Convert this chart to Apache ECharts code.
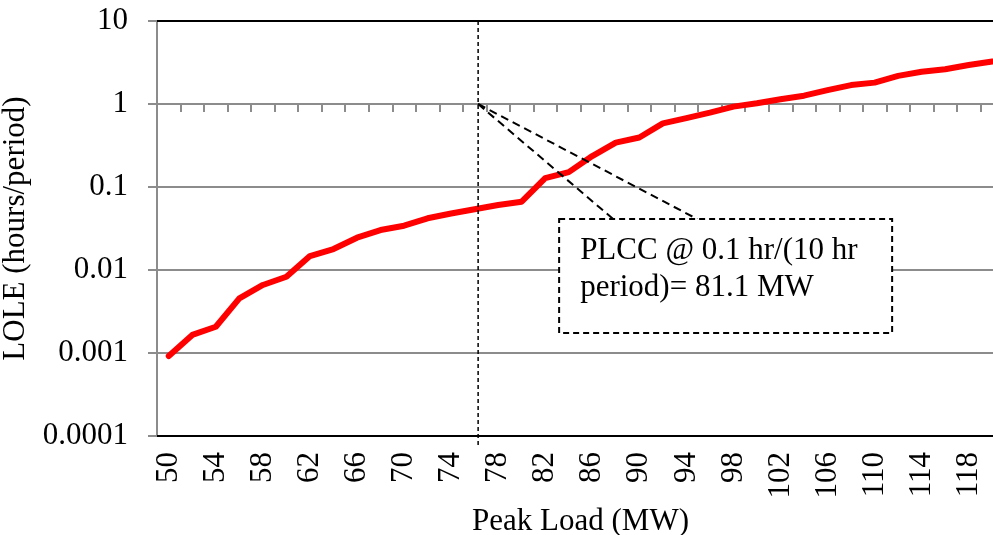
<!DOCTYPE html>
<html>
<head>
<meta charset="utf-8">
<script src="https://cdn.jsdelivr.net/npm/echarts@6/dist/echarts.min.js"></script>
<style>
html,body{margin:0;padding:0;background:#fff;}
#c{width:993px;height:535px;}
</style>
</head>
<body>
<div id="c"></div>
<script>
const categories = ['50','52','54','56','58','60','62','64','66','68','70','72','74','76','78','80','82','84','86','88','90','92','94','96','98','100','102','104','106','108','110','112','114','116','118','120'];
const lole = [0.00092,0.00165,0.00207,0.00456,0.0066,0.0083,0.0147,0.0179,0.0245,0.0303,0.0342,0.042,0.048,0.054,0.0607,0.0665,0.128,0.151,0.236,0.343,0.395,0.585,0.675,0.786,0.93,1.02,1.14,1.26,1.47,1.69,1.81,2.18,2.45,2.62,2.95,3.25];
const yMin = 0.0001, yMax = 10;
const annotationText = 'PLCC @ 0.1 hr/(10 hr\nperiod)= 81.1 MW';
const markerCategory = '76';

const FONT = '"Liberation Serif","Times New Roman",serif';
const GRAY = '#8c8c8c';

const chart = echarts.init(document.getElementById('c'), null, {renderer:'canvas'});
chart.setOption({
  animation:false,
  backgroundColor:'#ffffff',
  grid:{left:157, top:21, width:847, height:415, containLabel:false, outerBoundsMode:'none'},
  xAxis:[
    {
      type:'category', data:categories, position:'bottom', boundaryGap:true,
      axisLine:{show:true, lineStyle:{color:'#000', width:2}},
      axisTick:{show:false},
      axisLabel:{interval:1, rotate:90, margin:16, fontFamily:FONT, fontSize:31, color:'#000'},
      name:'Peak Load (MW)', nameLocation:'middle', nameGap:66,
      nameTextStyle:{fontFamily:FONT, fontSize:31, color:'#000'},
      splitLine:{show:false}
    },
    {
      type:'category', data:categories, position:'top', offset:-83, boundaryGap:true,
      axisLine:{show:false},
      axisTick:{show:true, inside:true, interval:0, length:8, lineStyle:{color:GRAY, width:2}},
      axisLabel:{show:false}, splitLine:{show:false}
    },
    {
      type:'category', data:categories, position:'top', boundaryGap:true,
      axisLine:{show:true, lineStyle:{color:'#000', width:2}},
      axisTick:{show:false}, axisLabel:{show:false}, splitLine:{show:false}
    }
  ],
  yAxis:{
    type:'log', logBase:10, min:yMin, max:yMax,
    axisLine:{show:true, lineStyle:{color:GRAY, width:2}},
    axisTick:{show:true, length:9, lineStyle:{color:GRAY, width:2}},
    minorTick:{show:false},
    splitLine:{show:true, lineStyle:{color:GRAY, width:2}},
    axisLabel:{margin:29, fontFamily:FONT, fontSize:31, color:'#000',
      formatter:function(v){ return String(Number(Number(v).toPrecision(1))); }},
    name:'LOLE (hours/period)', nameLocation:'middle', nameGap:118,
    nameTextStyle:{fontFamily:FONT, fontSize:31, color:'#000'}
  },
  series:[{
    type:'line', data:lole, xAxisIndex:0, symbol:'none', smooth:false,
    lineStyle:{color:'#ff0000', width:6, cap:'round', join:'round'},
    z:3
  }]
});

// Annotation (callout) anchored to the chart's coordinate system
const ax = chart.convertToPixel({xAxisIndex:0}, markerCategory) + 3.5;
const ay = chart.convertToPixel({yAxisIndex:0}, 1);
const yTop = chart.convertToPixel({yAxisIndex:0}, yMax);
const yBot = chart.convertToPixel({yAxisIndex:0}, yMin);
const bx = ax + 81, by = ay + 115, bw = 333, bh = 114;
chart.setOption({
  graphic:[
    {type:'line', z:50, shape:{x1:ax, y1:yTop, x2:ax, y2:yBot+9},
      style:{stroke:'#000', lineWidth:1.5, lineDash:[4,3]}},
    {type:'line', z:50, shape:{x1:ax, y1:ay, x2:ax+135, y2:by},
      style:{stroke:'#000', lineWidth:2, lineDash:[8,5]}},
    {type:'line', z:50, shape:{x1:ax, y1:ay, x2:ax+219, y2:by},
      style:{stroke:'#000', lineWidth:2, lineDash:[8,5]}},
    {type:'rect', z:51, shape:{x:bx, y:by, width:bw, height:bh},
      style:{fill:'#fff', stroke:'#000', lineWidth:2, lineDash:[6,4]}},
    {type:'text', z:52, x:bx+21, y:by+13,
      style:{text:annotationText, font:'31px "Liberation Serif","Times New Roman",serif', fill:'#000', lineHeight:37}}
  ]
});
</script>
</body>
</html>
